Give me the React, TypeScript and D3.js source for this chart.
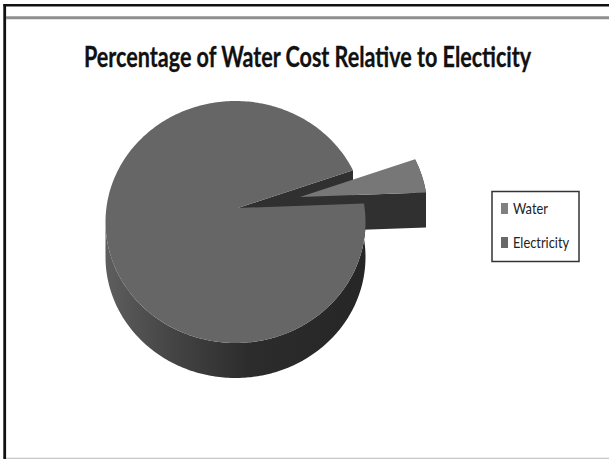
import React from "react";
import * as d3 from "d3";

const categories = ["Water", "Electricity"];
const shares = [4.6, 95.4];
const sliceColors = ["#777777", "#666666"];
const swatchColors = ["#808080", "#686868"];
const titleText = "Percentage of Water Cost Relative to Electicity";

const W = 609, H = 459;
// ellipse of the pie's top face, and the off-centre apex caused by perspective
const cx = 235.5, cy = 222, rx = 130, ry = 121, depth = 35;
const apex: [number, number] = [238, 208];
const explode = { x: 62, y: -11 };
const deg = Math.PI / 180;

const pieGen = d3.pie<number>().sort(null).startAngle(64.7 * deg).endAngle(424.7 * deg);
const slices = pieGen(shares);

const rim = (a: number): [number, number] => [cx + rx * Math.sin(a), cy - ry * Math.cos(a)];
const lineGen = d3.line();

function arcPoints(a0: number, a1: number): [number, number][] {
  const steps = Math.max(2, Math.ceil((a1 - a0) / deg));
  return d3.range(steps + 1).map((i) => rim(a0 + ((a1 - a0) * i) / steps));
}

function topPath(a0: number, a1: number) {
  return lineGen([apex, ...arcPoints(a0, a1)]) + "Z";
}

function outerWall(a0: number, a1: number) {
  const pts = arcPoints(a0, a1);
  const lower = pts.slice().reverse().map(([x, y]) => [x, y + depth] as [number, number]);
  return lineGen([...pts, ...lower]) + "Z";
}

function cutWall(a: number) {
  const [x, y] = rim(a);
  return lineGen([apex, [x, y], [x, y + depth], [apex[0], apex[1] + depth]]) + "Z";
}

export default function App() {
  const water = slices[0];
  const elec = slices[1];
  return (
    <svg width={W} height={H} style={{ position: "absolute", left: 0, top: 0, background: "#fff" }}>
      <defs>
        <linearGradient id="wallGrad" gradientUnits="userSpaceOnUse" x1={cx - rx} x2={cx + rx} y1={0} y2={0}>
          <stop offset="0" stopColor="#5e5e5e" />
          <stop offset="0.25" stopColor="#454545" />
          <stop offset="0.55" stopColor="#2c2c2c" />
          <stop offset="1" stopColor="#262626" />
        </linearGradient>
      </defs>
      <line x1={4.7} x2={4.7} y1={4} y2={H} stroke="#111" strokeWidth={2.8} />
      <line x1={3.5} x2={W} y1={5.3} y2={5.3} stroke="#111" strokeWidth={2.6} />
      <line x1={6} x2={W} y1={17.7} y2={17.7} stroke="#8f8f8f" strokeWidth={3} />
      <line x1={6} x2={W} y1={458.5} y2={458.5} stroke="#c8c8c8" strokeWidth={1.5} />

      <g transform="translate(84,67) scale(0.77,1)">
        <text x={0} y={0} fontFamily="Lato" fontWeight={700} fontSize={28} fill="#111" stroke="#111" strokeWidth={0.3}>{titleText}</text>
      </g>

      <path d={cutWall(elec.endAngle - 2 * Math.PI)} fill="#303030" />
      <path d={outerWall(elec.startAngle, (3 * Math.PI) / 2)} fill="url(#wallGrad)" />

      <g transform={`translate(${explode.x},${explode.y})`}>
        <path d={cutWall(water.endAngle)} fill="#303030" />
        <path d={outerWall(water.startAngle, water.endAngle)} fill="#303030" />
        <path d={topPath(water.startAngle, water.endAngle)} fill={sliceColors[0]} />
      </g>

      <path d={topPath(elec.startAngle, elec.endAngle)} fill={sliceColors[1]} />

      <rect x={492} y={191.5} width={87} height={70} fill="#fff" stroke="#333" strokeWidth={1.5} />
      {categories.map((c, i) => (
        <g key={c}>
          <rect x={501} y={203 + i * 34} width={7} height={11} fill={swatchColors[i]} />
          <g transform={`translate(513,${214 + i * 34}) scale(0.83,1)`}>
            <text fontFamily="Lato" fontSize={15.5} fill="#222">{c}</text>
          </g>
        </g>
      ))}
    </svg>
  );
}
